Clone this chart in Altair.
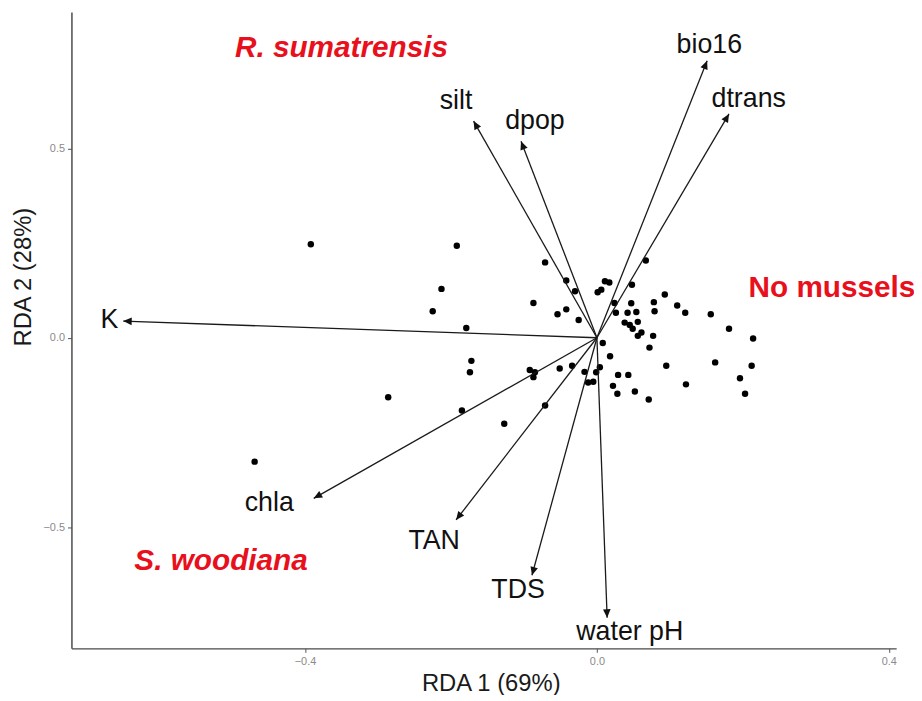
import math
import altair as alt
import pandas as pd

# ---- site scores (RDA1, RDA2) ----
site_rda1 = [-0.392, -0.192, -0.071, -0.213, -0.225, -0.179, -0.087, -0.054, -0.042, -0.042,
             -0.030, -0.025, -0.172, -0.174, -0.286, -0.092, -0.085, -0.087, -0.051, -0.034,
             -0.185, -0.127, -0.071, -0.469, 0.067, 0.011, 0.017, 0.001, 0.006, 0.048,
             0.093, 0.110, 0.121, 0.156, 0.181, 0.214, 0.047, 0.078, 0.079, 0.024,
             0.026, 0.042, 0.054, 0.038, 0.045, 0.056, 0.049, 0.056, 0.061, 0.077,
             0.072, 0.008, 0.018, 0.095, 0.162, 0.212, 0.196, 0.203, 0.122, 0.029,
             0.043, 0.022, 0.028, 0.052, 0.071, 0.004, -0.001, -0.017, -0.012, -0.005]
site_rda2 = [0.247, 0.243, 0.199, 0.129, 0.070, 0.026, 0.092, 0.062, 0.075, 0.151,
             0.123, 0.047, -0.061, -0.091, -0.157, -0.085, -0.091, -0.104, -0.081, -0.074,
             -0.192, -0.227, -0.179, -0.327, 0.204, 0.149, 0.146, 0.120, 0.127, 0.140,
             0.114, 0.085, 0.066, 0.062, 0.024, -0.002, 0.091, 0.094, 0.070, 0.092,
             0.066, 0.066, 0.068, 0.040, 0.034, 0.042, 0.024, 0.005, 0.014, 0.005,
             -0.026, -0.014, -0.049, -0.074, -0.065, -0.074, -0.107, -0.148, -0.123, -0.098,
             -0.098, -0.127, -0.148, -0.142, -0.163, -0.078, -0.091, -0.090, -0.118, -0.116]

# ---- environmental vectors ----
var_names = ["K", "silt", "dpop", "bio16", "dtrans", "chla", "TAN", "TDS", "water pH"]
var_rda1 = [-0.649, -0.169, -0.104, 0.151, 0.181, -0.388, -0.193, -0.089, 0.014]
var_rda2 = [0.044, 0.572, 0.519, 0.731, 0.591, -0.424, -0.481, -0.627, -0.739]
var_label_rda1 = [-0.668, -0.193, -0.085, 0.154, 0.208, -0.449, -0.223, -0.108, 0.045]
var_label_rda2 = [0.046, 0.626, 0.571, 0.773, 0.629, -0.437, -0.537, -0.665, -0.776]

# ---- group annotations ----
group_names = ["R. sumatrensis", "S. woodiana", "No mussels"]
group_rda1 = [-0.350, -0.515, 0.322]
group_rda2 = [0.765, -0.589, 0.130]

X_DOMAIN = [-0.72, 0.41]
Y_DOMAIN = [-0.82, 0.86]
W, H = 832, 642
FONT = "Liberation Sans"

xs = alt.Scale(domain=X_DOMAIN, nice=False, zero=False)
ys = alt.Scale(domain=Y_DOMAIN, nice=False, zero=False)

px_per_x = W / (X_DOMAIN[1] - X_DOMAIN[0])
px_per_y = H / (Y_DOMAIN[1] - Y_DOMAIN[0])

sites = pd.DataFrame({"RDA1": site_rda1, "RDA2": site_rda2})
vec = pd.DataFrame({
    "name": var_names, "x": var_rda1, "y": var_rda2,
    "lx": var_label_rda1, "ly": var_label_rda2,
})
vec["ox"] = 0.0
vec["oy"] = 0.0
vec["angle"] = [
    math.degrees(math.atan2(x * px_per_x, y * px_per_y)) % 360
    for x, y in zip(var_rda1, var_rda2)
]
groups = pd.DataFrame({"name": group_names, "x": group_rda1, "y": group_rda2})

x_axis = alt.Axis(
    title="RDA 1 (69%)", values=[-0.4, 0.0, 0.4], format=".1f", grid=False,
    labelFont=FONT, labelFontSize=11, labelColor="#8a8a8a", labelPadding=3,
    tickColor="#555555", tickSize=4, domainColor="#4a4a4a", domainWidth=1.5,
    titleFont=FONT, titleFontSize=24, titleFontWeight="normal", titleColor="#1a1a1a",
    titleX=423, titleY=36, titleBaseline="middle",
)
y_axis = alt.Axis(
    title="RDA 2 (28%)", values=[-0.5, 0.0, 0.5], format=".1f", grid=False,
    labelFont=FONT, labelFontSize=11, labelColor="#8a8a8a", labelPadding=3,
    tickColor="#555555", tickSize=4, domainColor="#4a4a4a", domainWidth=1.5,
    titleFont=FONT, titleFontSize=24, titleFontWeight="normal", titleColor="#1a1a1a",
    titleX=-48, titleY=267, titleBaseline="middle", titleAngle=270,
)


def X(field):
    return alt.X(field, type="quantitative", scale=xs, axis=x_axis)


def Y(field):
    return alt.Y(field, type="quantitative", scale=ys, axis=y_axis)


points = alt.Chart(sites).mark_circle(size=42, color="black", opacity=1).encode(
    x=X("RDA1"), y=Y("RDA2"),
)

lines = alt.Chart(vec).mark_rule(color="#1a1a1a", strokeWidth=1.3).encode(
    x=X("ox"), y=Y("oy"), x2="x:Q", y2="y:Q",
)

heads = alt.Chart(vec).mark_point(
    shape="M0,0L0.45,1L-0.45,1Z", filled=True, color="#111111", opacity=1, size=290,
).encode(
    x=X("x"), y=Y("y"),
    angle=alt.Angle("angle:Q", scale=None),
)

labels = alt.Chart(vec).mark_text(
    font=FONT, fontSize=27, color="#111111", align="center", baseline="middle",
).encode(
    x=X("lx"), y=Y("ly"), text="name:N",
)

italic_groups = alt.Chart(groups).transform_filter(
    alt.datum.name != "No mussels"
).mark_text(
    font=FONT, fontSize=30, fontWeight="bold", fontStyle="italic", color="#e8101c",
    align="center", baseline="middle",
).encode(
    x=X("x"), y=Y("y"), text="name:N",
)

plain_groups = alt.Chart(groups).transform_filter(
    alt.datum.name == "No mussels"
).mark_text(
    font=FONT, fontSize=30, fontWeight="bold", color="#e8101c",
    align="center", baseline="middle",
).encode(
    x=X("x"), y=Y("y"), text="name:N",
)

chart = alt.layer(points, lines, heads, labels, italic_groups, plain_groups).properties(
    width=W, height=H,
    padding={"left": 64, "top": 1, "right": 18, "bottom": 44},
    autosize=alt.AutoSizeParams(type="none"),
    background="white",
).configure_view(stroke=None)

chart.save("out.html", embed_options={"renderer": "svg", "actions": False})
